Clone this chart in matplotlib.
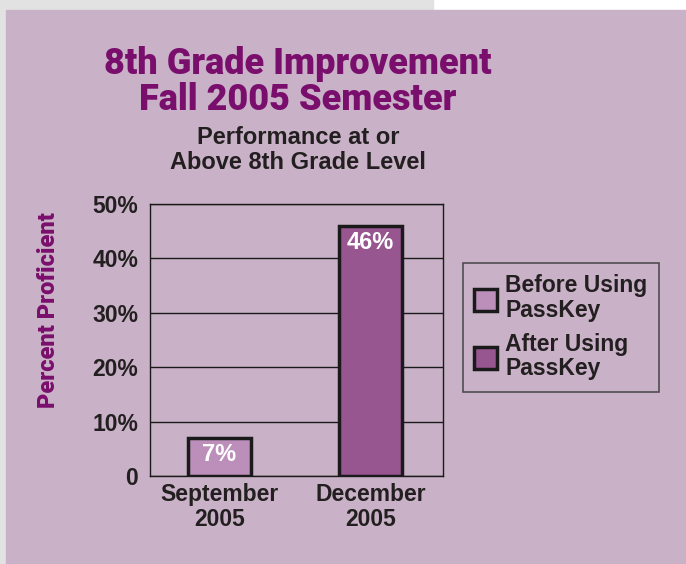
import matplotlib
matplotlib.use("Agg")
import matplotlib.pyplot as plt
from matplotlib.patches import Rectangle

categories = ["September\n2005", "December\n2005"]
values = [7, 46]
series_labels = ["Before Using\nPassKey", "After Using\nPassKey"]
value_labels = ["7%", "46%"]
yticks = [0, 10, 20, 30, 40, 50]
ytick_labels = ["0", "10%", "20%", "30%", "40%", "50%"]

bg = "#C9B2C7"
bar_colors = ["#BC8FBA", "#985690"]
title_color = "#7A0E6C"
text_color = "#231F20"
FONT = ["Liberation Sans", "DejaVu Sans"]

W, H = 686, 564
fig = plt.figure(figsize=(W/100, H/100), dpi=100)
fig.patch.set_facecolor("white")
# background panels
fig.add_artist(Rectangle((0, 1-10/H), 433/W, 10/H, transform=fig.transFigure, color="#E2E2E2", zorder=-10))
fig.add_artist(Rectangle((0, 0), 6/W, 1, transform=fig.transFigure, color="#E2E2E2", zorder=-10))
fig.add_artist(Rectangle((6/W, 0), 1-6/W, 1-10/H, transform=fig.transFigure, color=bg, zorder=-9))

ax = fig.add_axes([150/W, 1-476/H, 293/W, 272/H])
ax.set_facecolor("none")
x = [0, 1]
bars = ax.bar(x, values, width=0.42, color=bar_colors, edgecolor="#1A1A1A", linewidth=2.5, zorder=3)
ax.set_xlim(-0.46, 1.48)
ax.set_ylim(0, 50)
ax.set_yticks(yticks)
ax.set_yticklabels(ytick_labels, fontsize=16.5, fontweight="bold", color=text_color, family=FONT)
ax.set_xticks(x)
ax.set_xticklabels(categories, fontsize=16.5, fontweight="bold", color=text_color, family=FONT, linespacing=1.1)
ax.tick_params(axis="both", length=0)
ax.tick_params(axis="y", pad=8.5)
ax.tick_params(axis="x", pad=5)
ax.yaxis.grid(True, color="#1A1A1A", linewidth=1.0, zorder=1)
ax.set_axisbelow(True)
for s in ax.spines.values():
    s.set_color("#1A1A1A")
    s.set_linewidth(1.0)

for b, lab in zip(bars, value_labels):
    ax.annotate(lab, (b.get_x()+b.get_width()/2, b.get_height()), xytext=(0, -4),
                textcoords="offset points", ha="center", va="top", color="white",
                fontsize=17, fontweight="bold", family=FONT, zorder=5)

fig.text(49/W, 1-310/H, "Percent Proficient", rotation=90, ha="center", va="center",
         fontsize=17, fontweight=900, color=title_color, family=["Roboto", "DejaVu Sans"])

fig.text(298/W, 1-82/H, "8th Grade Improvement\nFall 2005 Semester", ha="center", va="center",
         fontsize=26, fontweight=900, color=title_color, family=["Roboto", "DejaVu Sans"], linespacing=1.02)
fig.text(298/W, 1-150/H, "Performance at or\nAbove 8th Grade Level", ha="center", va="center",
         fontsize=17, fontweight="bold", color=text_color, family=FONT, linespacing=1.08)

leg = fig.legend(bars, series_labels, loc="upper left", bbox_to_anchor=(463/W, 1-263/H),
                 frameon=True, fancybox=False, edgecolor="#333333", facecolor="none",
                 prop={"family": FONT, "weight": "bold", "size": 16.5},
                 handlelength=1.0, handleheight=1.1, handletextpad=0.35, labelspacing=0.45,
                 borderpad=0.5, borderaxespad=0)
leg.get_frame().set_linewidth(1.2)
for t in leg.get_texts():
    t.set_color(text_color)
    t.set_linespacing(1.1)

fig.savefig("out.png", dpi=100)
